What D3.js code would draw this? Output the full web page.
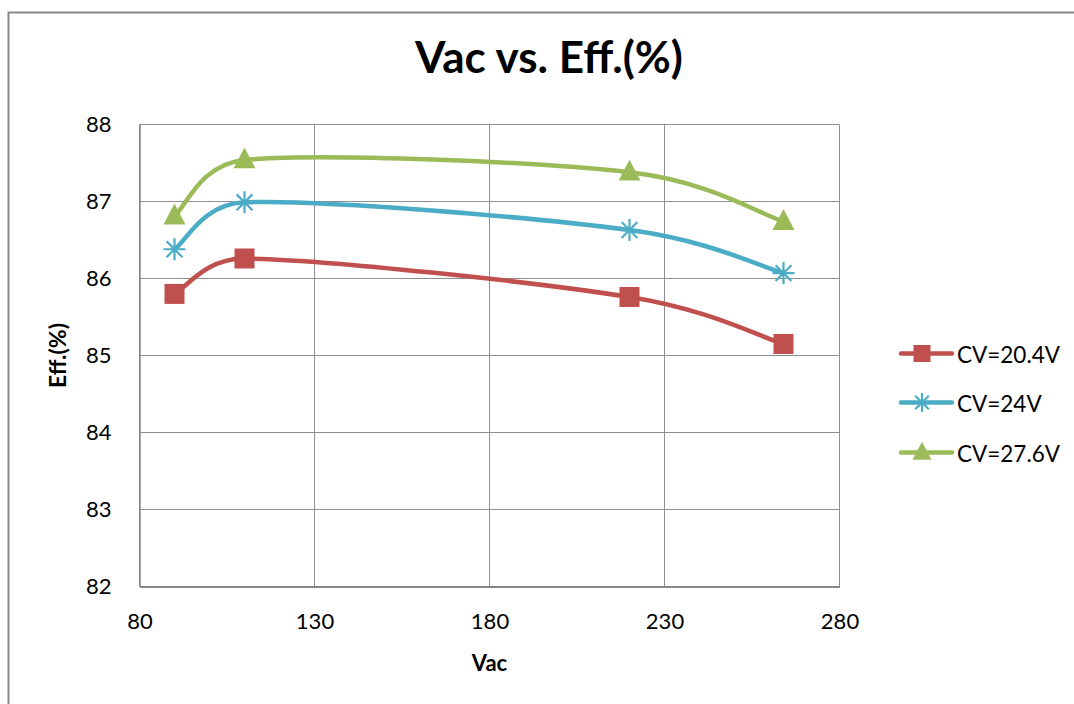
<!DOCTYPE html>
<html>
<head>
<meta charset="utf-8">
<script src="https://cdn.jsdelivr.net/npm/d3@7"></script>
<style>
  body { margin: 0; background: #fff; }
  svg text { font-family: Lato, "Open Sans", sans-serif; fill: #000; }
</style>
</head>
<body>
<svg id="chart"></svg>
<script>
// data
var vac = [90, 110, 220, 264];
var seriesNames = ["CV=20.4V", "CV=24V", "CV=27.6V"];
var eff204 = [85.80, 86.26, 85.76, 85.15];
var eff24 = [86.38, 86.99, 86.63, 86.07];
var eff276 = [86.81, 87.54, 87.38, 86.74];
var xTicks = [80, 130, 180, 230, 280];
var yTicks = [82, 83, 84, 85, 86, 87, 88];

var seriesColors = ["#C0504D", "#4BACC6", "#9BBB59"];
var seriesMarkers = ["square", "star", "triangle"];
var seriesValues = [eff204, eff24, eff276];

var width = 1074, height = 704;
var plotL = 139.5, plotR = 839.5, plotT = 124.5, plotB = 586.5;

var svg = d3.select("#chart")
    .attr("width", width)
    .attr("height", height);

// chart frame (only left and top edges show inside the window)
svg.append("rect")
    .attr("x", 8.5).attr("y", 12.5)
    .attr("width", 1200).attr("height", 900)
    .attr("fill", "none")
    .attr("stroke", "#878787")
    .attr("stroke-width", 2);

var x = d3.scaleLinear().domain([80, 280]).range([plotL, plotR]);
var y = d3.scaleLinear().domain([82, 88]).range([plotB, plotT]);

// gridlines
svg.append("g")
    .selectAll("line")
    .data(yTicks)
    .enter().append("line")
    .attr("x1", plotL).attr("x2", plotR)
    .attr("y1", function(d) { return y(d); })
    .attr("y2", function(d) { return y(d); })
    .attr("stroke", "#8e8e8e").attr("stroke-width", 1);
svg.append("g")
    .selectAll("line")
    .data(xTicks)
    .enter().append("line")
    .attr("x1", function(d) { return x(d); })
    .attr("x2", function(d) { return x(d); })
    .attr("y1", plotT).attr("y2", plotB)
    .attr("stroke", "#8e8e8e").attr("stroke-width", 1);

// axes
var yAxis = svg.append("g")
    .attr("transform", "translate(" + plotL + ",0)")
    .call(d3.axisLeft(y).tickValues(yTicks).tickFormat(d3.format("d")).tickSize(0).tickPadding(28));
var xAxis = svg.append("g")
    .attr("transform", "translate(0," + plotB + ")")
    .call(d3.axisBottom(x).tickValues(xTicks).tickFormat(d3.format("d")).tickSize(0).tickPadding(27));
yAxis.select(".domain").attr("stroke", "#868686").attr("stroke-width", 1.5);
xAxis.select(".domain").attr("stroke", "#868686").attr("stroke-width", 2);
svg.selectAll(".tick text").attr("font-size", "22px").attr("font-family", "Lato, sans-serif").attr("fill", "#000");

// titles
svg.append("text")
    .attr("x", 549).attr("y", 73)
    .attr("text-anchor", "middle")
    .attr("font-size", "44px").attr("font-weight", "bold")
    .text("Vac vs. Eff.(%)");
svg.append("text")
    .attr("x", (plotL + plotR) / 2).attr("y", 671)
    .attr("text-anchor", "middle")
    .attr("font-size", "22px").attr("font-weight", "bold")
    .text("Vac");
svg.append("text")
    .attr("transform", "translate(66," + ((plotT + plotB) / 2) + ") rotate(-90)")
    .attr("text-anchor", "middle")
    .attr("font-size", "23px").attr("font-weight", "bold")
    .text("Eff.(%)");

function drawMarker(g, type, color, cx, cy, s) {
  if (type === "square") {
    g.append("rect")
      .attr("x", cx - s / 2).attr("y", cy - s / 2)
      .attr("width", s).attr("height", s)
      .attr("fill", color);
  } else if (type === "triangle") {
    var h = s * 0.95;
    g.append("path")
      .attr("d", "M" + cx + "," + (cy - h * 0.6) +
                 "L" + (cx + s / 2) + "," + (cy + h * 0.4) +
                 "L" + (cx - s / 2) + "," + (cy + h * 0.4) + "Z")
      .attr("fill", color);
  } else {
    var r = s / 2, d = r * 0.72;
    g.append("path")
      .attr("d", "M" + cx + "," + (cy - r) + "L" + cx + "," + (cy + r) +
                 "M" + (cx - d) + "," + (cy - d) + "L" + (cx + d) + "," + (cy + d) +
                 "M" + (cx - d) + "," + (cy + d) + "L" + (cx + d) + "," + (cy - d) +
                 "M" + (cx - r) + "," + cy + "L" + (cx + r) + "," + cy)
      .attr("stroke", color).attr("stroke-width", 2.2).attr("fill", "none");
  }
}

// spreadsheet-style smoothing: bezier with catmull-rom handles (1/6),
// handles clamped to half the segment so short segments don't loop
function clampVec(v, max) {
  var l = Math.sqrt(v[0] * v[0] + v[1] * v[1]);
  if (l > max && l > 0) return [v[0] * max / l, v[1] * max / l];
  return v;
}
function curveSmooth(context) {
  var pts;
  return {
    areaStart: function() {}, areaEnd: function() {},
    lineStart: function() { pts = []; },
    point: function(px, py) { pts.push([+px, +py]); },
    lineEnd: function() {
      var n = pts.length, k;
      if (!n) return;
      context.moveTo(pts[0][0], pts[0][1]);
      for (k = 0; k < n - 1; k++) {
        var p0 = pts[Math.max(k - 1, 0)], p1 = pts[k], p2 = pts[k + 1], p3 = pts[Math.min(k + 2, n - 1)];
        var len = Math.sqrt((p2[0] - p1[0]) * (p2[0] - p1[0]) + (p2[1] - p1[1]) * (p2[1] - p1[1]));
        var a = clampVec([(p2[0] - p0[0]) / 6, (p2[1] - p0[1]) / 6], len * 0.5);
        var b = clampVec([(p3[0] - p1[0]) / 6, (p3[1] - p1[1]) / 6], len * 0.5);
        context.bezierCurveTo(p1[0] + a[0], p1[1] + a[1], p2[0] - b[0], p2[1] - b[1], p2[0], p2[1]);
      }
    }
  };
}

var line = d3.line()
    .x(function(d) { return x(d[0]); })
    .y(function(d) { return y(d[1]); })
    .curve(curveSmooth);

var i, j;
for (i = 0; i < seriesValues.length; i++) {
  var pts = vac.map(function(v, k) { return [v, seriesValues[i][k]]; });
  var g = svg.append("g");
  g.append("path")
    .attr("d", line(pts))
    .attr("fill", "none")
    .attr("stroke", seriesColors[i])
    .attr("stroke-width", 4.5)
    .attr("stroke-linecap", "round");
  for (j = 0; j < pts.length; j++) {
    drawMarker(g, seriesMarkers[i], seriesColors[i], x(pts[j][0]), y(pts[j][1]), seriesMarkers[i] === "square" ? 20 : 22);
  }
}

// legend
var legY = [353.5, 402.5, 452.5];
for (i = 0; i < seriesNames.length; i++) {
  var lg = svg.append("g");
  lg.append("line")
    .attr("x1", 901).attr("x2", 952)
    .attr("y1", legY[i]).attr("y2", legY[i])
    .attr("stroke", seriesColors[i]).attr("stroke-width", 4.5)
    .attr("stroke-linecap", "round");
  drawMarker(lg, seriesMarkers[i], seriesColors[i], 922, legY[i], seriesMarkers[i] === "square" ? 17 : 19);
  lg.append("text")
    .attr("x", 957).attr("y", legY[i] + 9)
    .attr("font-size", "22.5px")
    .text(seriesNames[i]);
}
</script>
</body>
</html>
